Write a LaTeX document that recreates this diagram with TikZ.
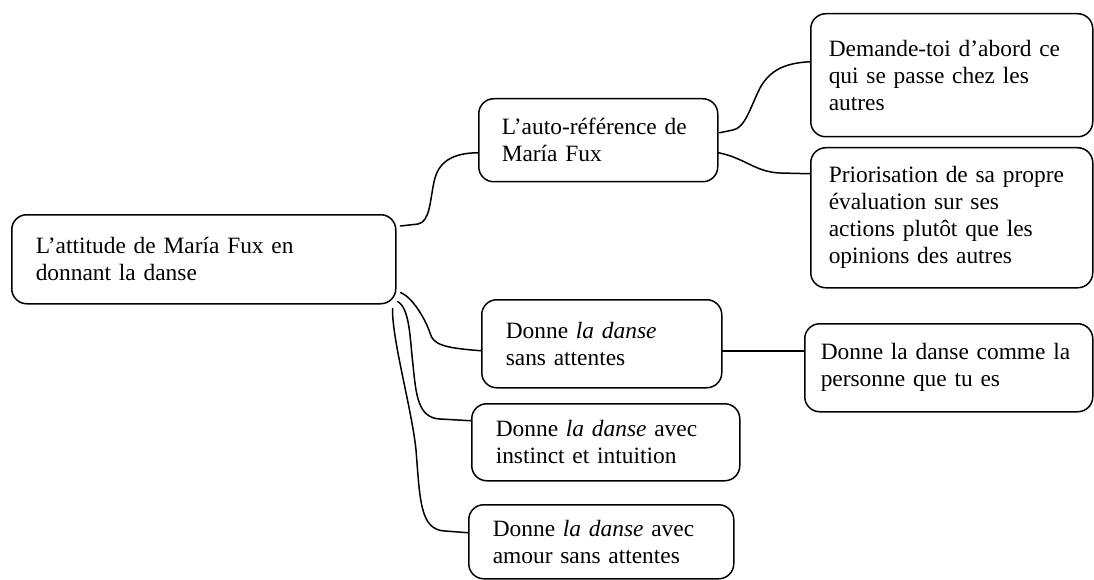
\documentclass[tikz,border=0pt]{standalone}
\usepackage{fontspec}
\setmainfont{Liberation Serif}
\begin{document}
\begin{tikzpicture}[x=1pt,y=-1pt,
  box/.style={draw=black, line width=1.5pt, rounded corners=15pt, anchor=north west,
    align=left, inner ysep=0pt, font=\fontsize{23.4}{27}\selectfont},
  link/.style={draw=black, line width=1.5pt, line cap=round, line join=round}]
\useasboundingbox (0,0) rectangle (1094,580);
\node[box, inner xsep=24pt, text width=336pt, minimum height=89pt] (root) at (11,214)
  {L’attitude de María Fux en\\donnant la danse};
\node[box, inner xsep=23pt, text width=193pt, minimum height=83pt] (auto) at (478,98)
  {L’auto-référence de\\María Fux};
\node[box, inner xsep=18pt, text width=246pt, minimum height=123pt] (dem) at (810,13)
  {Demande-toi d’abord ce\\qui se passe chez les\\autres};
\node[box, inner xsep=18pt, text width=246pt, minimum height=140pt] (prio) at (810,147)
  {Priorisation de sa propre\\évaluation sur ses\\actions plutôt que les\\opinions des autres};
\node[box, inner xsep=24pt, text width=192pt, minimum height=88pt] (sans) at (481,299)
  {Donne \textit{la danse}\\sans attentes};
\node[box, inner xsep=16pt, text width=256pt, minimum height=88pt] (pers) at (804,323)
  {Donne la danse comme la\\personne que tu es};
\node[box, inner xsep=24pt, text width=220pt, minimum height=77pt] (inst) at (471,403)
  {Donne \textit{la danse} avec\\instinct et intuition};
\node[box, inner xsep=24pt, text width=217pt, minimum height=74pt] (amour) at (468,504)
  {Donne \textit{la danse} avec\\amour sans attentes};
% connectors
\draw[link] ([shift={(4,12)}]root.north east) -- (418,224)
  .. controls (430,222) and (430,200) .. (434,182)
  .. controls (438,162) and (452,153) .. ([shift={(0,12.5)}]auto.west);
\draw[link] ([shift={(1,-7.5)}]auto.east) -- (733,130)
  .. controls (745,128) and (750,108) .. (760,88)
  .. controls (770,70) and (785,63) .. ([shift={(0,-13.5)}]dem.west);
\draw[link] ([shift={(0,12.5)}]auto.east)
  .. controls (745,158) and (755,172) .. (780,173) -- ([shift={(0,-44)}]prio.west);
\draw[link] ([shift={(4,-12)}]root.south east)
  .. controls (412,297) and (425,318) .. (430,333)
  .. controls (433,345) and (445,348) .. ([shift={(0,7)}]sans.west);
\draw[link] ([shift={(1,-3)}]root.south east)
  .. controls (410,308) and (410,340) .. (413,365)
  .. controls (416,395) and (418,418) .. (440,419) -- ([shift={(0,-21.5)}]inst.west);
\draw[link] ([shift={(-4,4)}]root.south east)
  .. controls (392,340) and (412,410) .. (416,450)
  .. controls (420,500) and (420,530) .. (445,531) -- ([shift={(0,-9)}]amour.west);
\draw[link] ([shift={(0,7)}]sans.east) -- ([shift={(0,-17)}]pers.west);
\end{tikzpicture}
\end{document}
